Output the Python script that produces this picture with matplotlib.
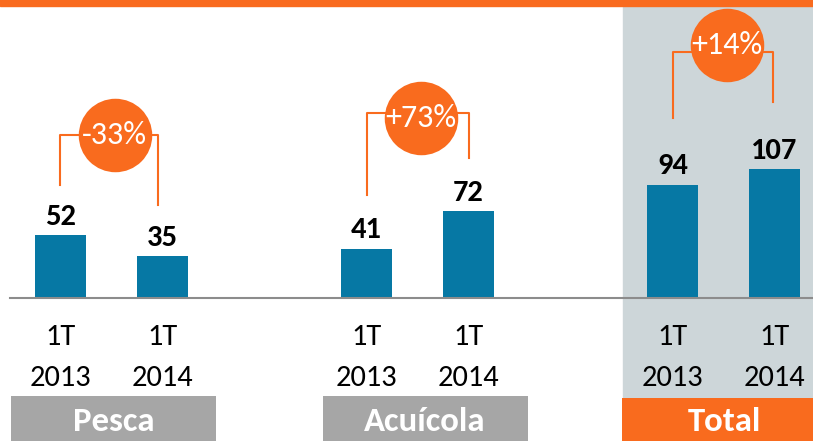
import numpy as np
import matplotlib.pyplot as plt

plt.rcParams['font.family'] = ['Carlito', 'DejaVu Sans']

# data
groups = ['Pesca', 'Acuícola', 'Total']
periods = ['1T\n2013', '1T\n2014']
v2013 = [52, 41, 94]
v2014 = [35, 72, 107]
changes = ['-33%', '+73%', '+14%']

# style
BLUE = '#0678A4'
ORANGE = '#F96B1E'
GREY_BOX = '#A6A6A6'
PANEL = '#CDD6D9'

pos = np.array([0, 1, 3, 4, 6, 7], dtype=float)
vals = [v for pair in zip(v2013, v2014) for v in pair]
labels = periods * 3

fig = plt.figure(figsize=(8.13, 4.41), dpi=100)
ax = fig.add_axes([0, 0, 1, 1])
ax.set_xlim(-0.593, 7.377)
ax.set_ylim(-118.5, 246.9)
ax.axis('off')

# total panel + top band
ax.axvspan(5.51, 7.5, ymin=(-82.8 + 118.5) / 365.4, ymax=1, color=PANEL, zorder=0)
ax.axhspan(241.9, 260, color=ORANGE, zorder=5)

ax.bar(pos, vals, width=0.5, color=BLUE, zorder=2)
ax.plot([-0.495, 7.5], [0, 0], color='#8C8C8C', lw=1.5, zorder=3)

for x, v, lab in zip(pos, vals, labels):
    top, bottom = lab.split('\n')
    ax.text(x, v + 15, str(v), ha='center', va='center', fontsize=22,
            fontweight='bold', color='black')
    ax.text(x, -32, top, ha='center', va='center', fontsize=22, color='black')
    ax.text(x, -66, bottom, ha='center', va='center', fontsize=22, color='black')

# category boxes
box_left = [-0.485, 2.57, 5.505]
box_bottom = [-81.2, -81.2, -82.8]
box_colors = [GREY_BOX, GREY_BOX, ORANGE]
for g, bl, bb, c in zip(groups, box_left, box_bottom, box_colors):
    ax.bar(bl, bb - (-125), width=2.01, bottom=-125, align='edge', color=c, zorder=2)
    ax.text(bl + 1.005, -102.5, g, ha='center', va='center', fontsize=25,
            fontweight='bold', color='white', zorder=6)

# change brackets
bracket_y = [135, 153, 204]
circle_y = [135, 149, 210]
drop = [42, 44, 55]
right_shift = [-0.04, 0, -0.02]
for i in range(3):
    xl, xr = pos[2 * i], pos[2 * i + 1] + right_shift[i]
    yl, yr = v2013[i] + drop[i], v2014[i] + drop[i]
    ax.plot([xl, xl, xr, xr], [yl, bracket_y[i], bracket_y[i], yr],
            color=ORANGE, lw=1.5, zorder=3)
    xc = (pos[2 * i] + pos[2 * i + 1]) / 2 + 0.03
    ax.scatter([xc], [circle_y[i]], s=2800, color=ORANGE, zorder=4, linewidths=0)
    ax.text(xc, circle_y[i], changes[i], ha='center', va='center', fontsize=23,
            color='white', zorder=5)

fig.savefig('out.png', dpi=100)
